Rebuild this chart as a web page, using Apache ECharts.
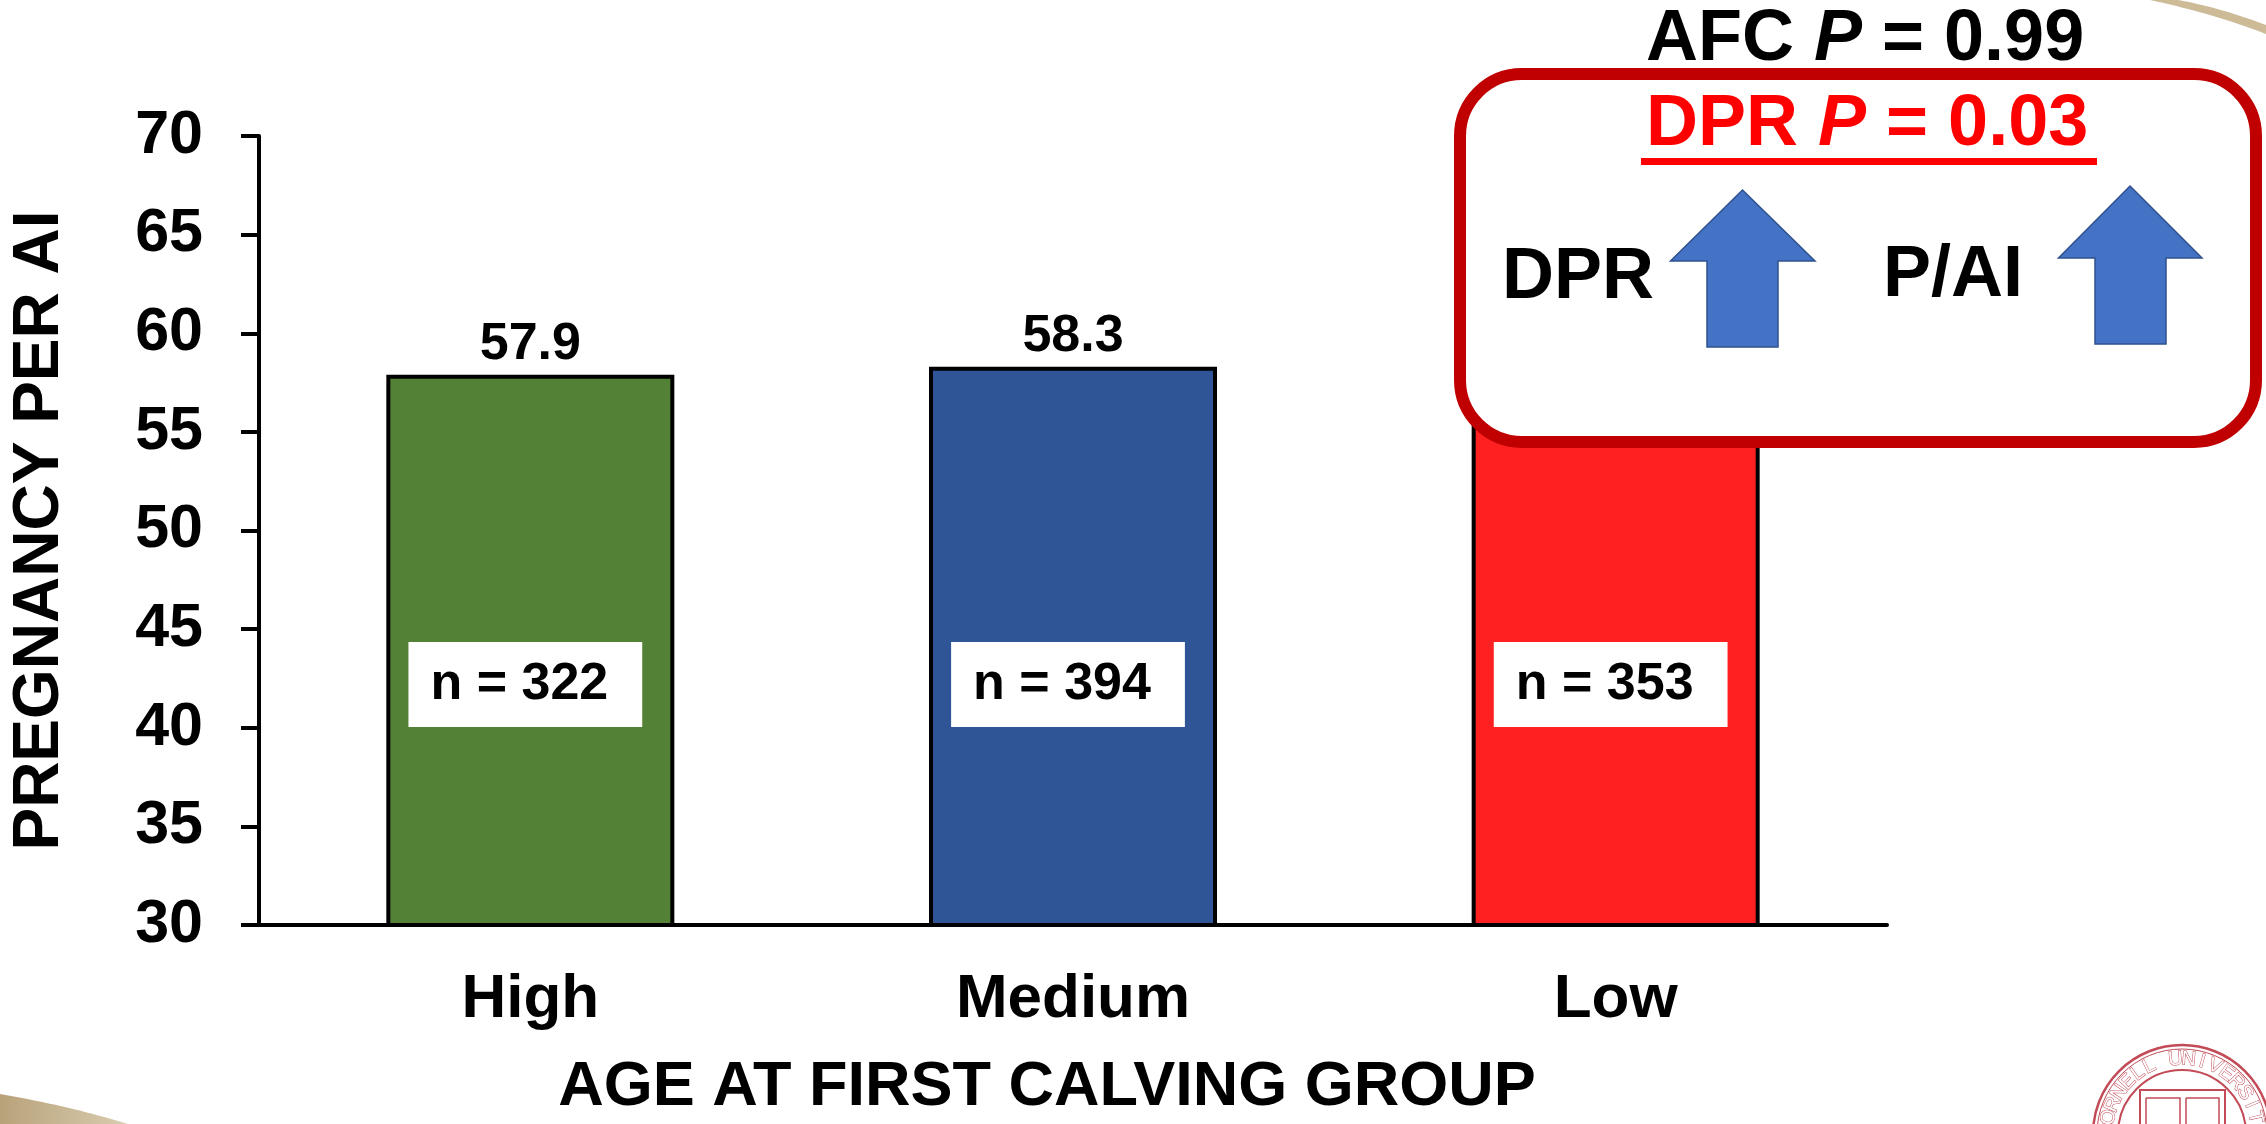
<!DOCTYPE html>
<html>
<head>
<meta charset="utf-8">
<script src="https://cdn.jsdelivr.net/npm/echarts@6/dist/echarts.min.js"></script>
<style>
html,body{margin:0;padding:0;background:#ffffff;}
#chart{width:2266px;height:1124px;}
</style>
</head>
<body>
<div id="chart"></div>
<script>
// ---------- data ----------
const categories = ['High', 'Medium', 'Low'];
const pregnancyPerAI = [57.9, 58.3, 62.0];   // Low bar top is hidden behind the call-out box (estimated)
const groupN = [322, 394, 353];
const yMin = 30;
const yMax = 70;
const yStep = 5;
const yAxisTitle = 'PREGNANCY PER AI';
const xAxisTitle = 'AGE AT FIRST CALVING GROUP';
const afcP = '0.99';
const dprP = '0.03';
const arrowLabels = ['DPR', 'P/AI'];

// ---------- styles ----------
const barColors = ['#538135', '#2F5597', '#FF2121'];
const FONT = "'Liberation Sans', Arial, Helvetica, sans-serif";

const chart = echarts.init(document.getElementById('chart'), null, {renderer: 'canvas'});

// helper: points along a quadratic curve (for decorative template swooshes)
function quad(p0, p1, p2, n) {
  const pts = [];
  for (let i = 0; i <= n; i++) {
    const t = i / n, u = 1 - t;
    pts.push([u*u*p0[0] + 2*u*t*p1[0] + t*t*p2[0], u*u*p0[1] + 2*u*t*p1[1] + t*t*p2[1]]);
  }
  return pts;
}

const Z = 100;
const graphics = [];

// template swoosh top-right
const trTop = quad([2150, 0], [2215, 14], [2266, 34], 20);
const trBot = quad([2266, 25], [2218, 7], [2178, 0], 20);
graphics.push({
  type: 'polygon', z: 1, silent: true,
  shape: {points: trTop.concat(trBot)},
  style: {fill: '#CDBB98'}
});
// template swoosh bottom-left
graphics.push({
  type: 'polygon', z: 1, silent: true,
  shape: {points: quad([0, 1094], [70, 1106], [128, 1124], 20).concat([[0, 1124]])},
  style: {
    fill: new echarts.graphic.LinearGradient(0, 0, 1, 0, [
      {offset: 0, color: '#B8A27A'}, {offset: 1, color: '#D9CCB0'}
    ])
  }
});

// Cornell seal (bottom-right, partially cut off)
const sealCx = 2182, sealCy = 1134;
const sealColor = '#C24B57';
graphics.push({type: 'circle', z: 2, silent: true, shape: {cx: sealCx, cy: sealCy, r: 89},
  style: {fill: '#fff', stroke: sealColor, lineWidth: 2.5}});
graphics.push({type: 'circle', z: 2, silent: true, shape: {cx: sealCx, cy: sealCy, r: 85},
  style: {fill: 'none', stroke: sealColor, lineWidth: 1}});
graphics.push({type: 'circle', z: 2, silent: true, shape: {cx: sealCx, cy: sealCy, r: 64},
  style: {fill: 'none', stroke: sealColor, lineWidth: 2}});
graphics.push({type: 'rect', z: 3, silent: true, shape: {x: 2140, y: 1090, width: 85, height: 60},
  style: {fill: '#fff', stroke: sealColor, lineWidth: 2}});
graphics.push({type: 'rect', z: 3, silent: true, shape: {x: 2146, y: 1098, width: 34, height: 40, r: [0,0,12,12]},
  style: {fill: 'none', stroke: sealColor, lineWidth: 1.5}});
graphics.push({type: 'rect', z: 3, silent: true, shape: {x: 2186, y: 1098, width: 33, height: 40, r: [0,0,12,12]},
  style: {fill: 'none', stroke: sealColor, lineWidth: 1.5}});
const sealText = 'CORNELL UNIVERSITY';
for (let i = 0; i < sealText.length; i++) {
  const ch = sealText[i];
  if (ch === ' ') continue;
  const th = (-87.5 + 10.3 * i) * Math.PI / 180;
  graphics.push({
    type: 'text', z: 3, silent: true,
    x: sealCx + 75 * Math.sin(th), y: sealCy - 75 * Math.cos(th), rotation: -th,
    style: {text: ch, fill: '#fff', stroke: sealColor, lineWidth: 1, fontSize: 20, fontFamily: FONT,
      align: 'center', verticalAlign: 'middle'}
  });
}

// call-out box
graphics.push({
  type: 'rect', z: Z, silent: true,
  shape: {x: 1460, y: 74, width: 796, height: 368, r: 62},
  style: {fill: '#ffffff', stroke: '#C00000', lineWidth: 12}
});
graphics.push({
  type: 'text', z: Z + 1, silent: true, x: 1646, y: 40,
  style: {
    text: '{b|AFC }{i|P}{b| = ' + afcP + '}',
    align: 'left', verticalAlign: 'middle',
    rich: {
      b: {fontSize: 72, fontWeight: 'bold', fontFamily: FONT, fill: '#000'},
      i: {fontSize: 72, fontWeight: 'bold', fontStyle: 'italic', fontFamily: FONT, fill: '#000'}
    }
  }
});
graphics.push({
  type: 'text', z: Z + 1, silent: true, x: 1646, y: 125,
  style: {
    text: '{b|DPR }{i|P}{b| = ' + dprP + '}',
    align: 'left', verticalAlign: 'middle',
    rich: {
      b: {fontSize: 72, fontWeight: 'bold', fontFamily: FONT, fill: '#FF0000'},
      i: {fontSize: 72, fontWeight: 'bold', fontStyle: 'italic', fontFamily: FONT, fill: '#FF0000'}
    }
  }
});
graphics.push({type: 'rect', z: Z + 1, silent: true, shape: {x: 1641, y: 158, width: 456, height: 7},
  style: {fill: '#FF0000'}});
graphics.push({type: 'text', z: Z + 1, silent: true, x: 1502, y: 278,
  style: {text: arrowLabels[0], fontSize: 72, fontWeight: 'bold', fontFamily: FONT, fill: '#000',
    align: 'left', verticalAlign: 'middle'}});
graphics.push({type: 'text', z: Z + 1, silent: true, x: 1883, y: 276,
  style: {text: arrowLabels[1], fontSize: 72, fontWeight: 'bold', fontFamily: FONT, fill: '#000',
    align: 'left', verticalAlign: 'middle'}});
graphics.push({type: 'polygon', z: Z + 1, silent: true,
  shape: {points: [[1742.5,190],[1815,261],[1778,261],[1778,347],[1707,347],[1707,261],[1670.5,261]]},
  style: {fill: '#4472C4', stroke: '#2F528F', lineWidth: 1.5}});
graphics.push({type: 'polygon', z: Z + 1, silent: true,
  shape: {points: [[2130,186],[2202,258],[2166,258],[2166,344],[2095,344],[2095,258],[2058.5,258]]},
  style: {fill: '#4472C4', stroke: '#2F528F', lineWidth: 1.5}});

const option = {
  animation: false,
  backgroundColor: '#ffffff',
  textStyle: {fontFamily: FONT},
  grid: {left: 255, top: 136, width: 1632, height: 792, containLabel: false},
  xAxis: {
    type: 'category',
    data: categories,
    boundaryGap: true,
    name: xAxisTitle,
    nameLocation: 'middle',
    nameGap: 131,
    nameTextStyle: {fontSize: 63, fontWeight: 'bold', color: '#000', fontFamily: FONT, padding: [0, 52, 0, 0]},
    axisLine: {show: true, lineStyle: {color: '#000', width: 4}},
    axisTick: {show: false},
    axisLabel: {fontSize: 62, fontWeight: 'bold', color: '#000', fontFamily: FONT, margin: 44},
    splitLine: {show: false}
  },
  yAxis: {
    type: 'value',
    min: yMin, max: yMax, interval: yStep,
    name: yAxisTitle,
    nameLocation: 'middle',
    nameRotate: 90,
    nameGap: 187,
    nameTextStyle: {fontSize: 64, fontWeight: 'bold', color: '#000', fontFamily: FONT},
    axisLine: {show: true, lineStyle: {color: '#000', width: 4}},
    axisTick: {show: true, inside: false, length: 18, lineStyle: {color: '#000', width: 4}},
    axisLabel: {fontSize: 61, fontWeight: 'bold', color: '#000', fontFamily: FONT, margin: 56},
    splitLine: {show: false}
  },
  series: [
    {
      type: 'bar',
      data: pregnancyPerAI,
      barWidth: 288,
      barGap: '-100%',
      itemStyle: {
        color: p => barColors[p.dataIndex],
        borderColor: '#000',
        borderWidth: 4
      },
      label: {
        show: true, position: 'top', distance: 4,
        fontSize: 52, fontWeight: 'bold', color: '#000', fontFamily: FONT,
        formatter: p => p.value.toFixed(1)
      },
      z: 2
    },
    {
      type: 'bar',
      data: pregnancyPerAI,
      barWidth: 288,
      barGap: '-100%',
      silent: true,
      itemStyle: {color: 'rgba(0,0,0,0)', borderWidth: 0},
      label: {
        show: true, position: 'insideBottom', distance: 198, offset: [-5, 0],
        formatter: p => 'n = ' + groupN[p.dataIndex],
        backgroundColor: '#ffffff',
        padding: [17, 34, 16, 22],
        fontSize: 52, lineHeight: 52, fontWeight: 'bold', color: '#000', fontFamily: FONT,
        textBorderWidth: 0
      },
      z: 3
    }
  ],
  graphic: {elements: graphics}
};
chart.setOption(option);
</script>
</body>
</html>
